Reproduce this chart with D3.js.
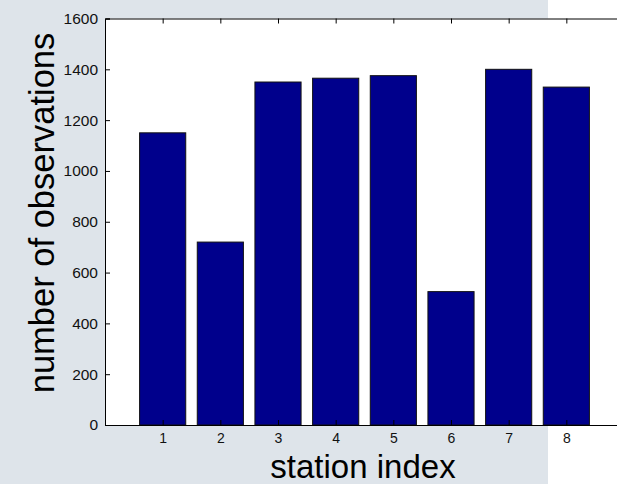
<!DOCTYPE html>
<html><head><meta charset="utf-8">
<script src="https://cdn.jsdelivr.net/npm/d3@7"></script>
<style>body{margin:0;background:#fff;}svg{display:block;font-family:"Liberation Sans",Arial,sans-serif;}</style>
</head><body>
<svg id="c" width="617" height="484"></svg>
<script>
const stations = [1,2,3,4,5,6,7,8];
const counts = [1150,720,1350,1365,1375,525,1400,1330];
const yTicks = [0,200,400,600,800,1000,1200,1400,1600];
const xLabel = "station index";
const yLabel = "number of observations";

const svg = d3.select("#c");
svg.append("rect").attr("x",0).attr("y",0).attr("width",548).attr("height",484).attr("fill","#dee4ea");

const L=105, T=18.5, B=425, R=624;
const x = d3.scaleLinear().domain([0,9]).range([L,R]);
const y = d3.scaleLinear().domain([0,1600]).range([B,T]);

svg.append("rect").attr("x",L).attr("y",T).attr("width",R-L).attr("height",B-T).attr("fill","#fff");

const bw = 0.8;
svg.selectAll("rect.bar").data(stations).join("rect").attr("class","bar")
  .attr("x",d=>x(d-bw/2)).attr("width",d=>x(d+bw/2)-x(d-bw/2))
  .attr("y",(d,i)=>y(counts[i])).attr("height",(d,i)=>y(0)-y(counts[i]))
  .attr("fill","#00008c").attr("stroke","#111").attr("stroke-width",1);

// left axis
const yAx = d3.axisLeft(y).tickValues(yTicks).tickSize(-5).tickPadding(7).tickFormat(d3.format("d"));
const gy = svg.append("g").attr("transform",`translate(${L},0)`).call(yAx);
gy.select(".domain").attr("stroke","#000");
gy.selectAll("text").attr("font-size",15.5).attr("fill","#111").attr("font-family","Liberation Sans, Arial, sans-serif");

// bottom axis
const xAx = d3.axisBottom(x).tickValues(stations).tickSize(-5).tickPadding(8).tickFormat(d3.format("d"));
const gx = svg.append("g").attr("transform",`translate(0,${B})`).call(xAx);
gx.select(".domain").attr("stroke","#000");
gx.selectAll("text").attr("font-size",14).attr("fill","#111").attr("font-family","Liberation Sans, Arial, sans-serif");

// top axis
const gt = svg.append("g").attr("transform",`translate(0,${T})`).call(d3.axisTop(x).tickValues(stations).tickSize(-5).tickFormat(""));
gt.select(".domain").attr("stroke","#000");

svg.append("text").attr("x",363).attr("y",478).attr("text-anchor","middle")
  .attr("font-size",33).attr("fill","#000").text(xLabel);
svg.append("text").attr("transform","translate(54,213) rotate(-90)").attr("text-anchor","middle")
  .attr("font-size",34.5).attr("fill","#000").text(yLabel);
</script>
</body></html>
